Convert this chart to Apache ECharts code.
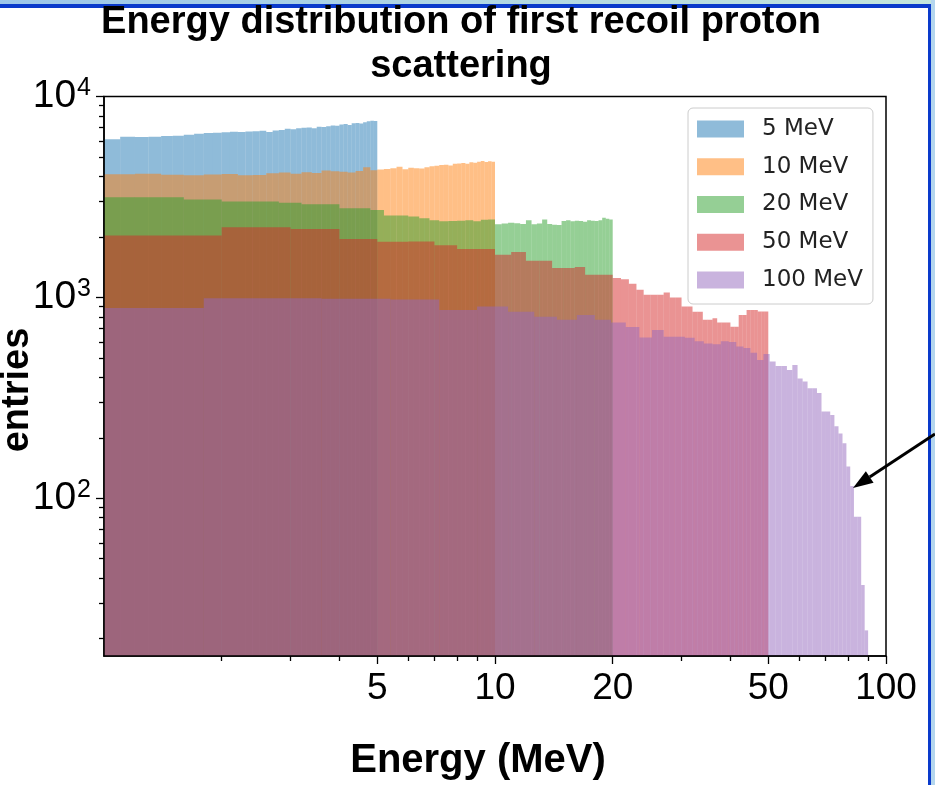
<!DOCTYPE html>
<html>
<head>
<meta charset="utf-8">
<script src="https://cdn.jsdelivr.net/npm/echarts@6/dist/echarts.min.js"></script>
<style>
html,body{margin:0;padding:0;background:#fff;}
#main{width:935px;height:785px;}
</style>
</head>
<body>
<div id="main"></div>
<script>
// 图例名称 / 颜色（matplotlib tab 色, alpha 0.5）
var names = ['5 MeV', '10 MeV', '20 MeV', '50 MeV', '100 MeV'];
var colors = ['rgba(31,119,180,0.5)', 'rgba(255,127,14,0.5)', 'rgba(44,160,44,0.5)', 'rgba(214,39,40,0.5)', 'rgba(148,103,189,0.5)'];
// 每组 50 个 bin，bin 宽度 = 最大能量 / 50，只保留 x>=1 能看到的 bin
var binWidth = [0.1, 0.2, 0.4, 1.0, 1.8];
var firstBin = [10, 5, 2, 1, 0];

var counts5 = [6120, 6300, 6280, 6300, 6350, 6380, 6450, 6520, 6580, 6600,
	6640, 6680, 6650, 6700, 6720, 6760, 6650, 6780, 6820, 6900,
	6870, 6950, 6980, 7000, 6950, 7080, 7050, 7120, 7180, 7150,
	7250, 7300, 7220, 7350, 7380, 7330, 7450, 7520, 7580, 7550];
var counts10 = [4100, 4120, 4080, 4060, 4090, 4110, 4050, 4070, 4150, 4180,
	4120, 4200, 4160, 4280, 4250, 4220, 4190, 4260, 4450, 4300,
	4330, 4360, 4400, 4470, 4340, 4420, 4400, 4380, 4450, 4500,
	4520, 4560, 4580, 4540, 4620, 4640, 4660, 4620, 4700, 4680,
	4740, 4780, 4720, 4760, 4740];
var counts20 = [3150, 3150, 3070, 3000, 3000, 2960, 2910, 2910, 2780, 2780,
	2720, 2560, 2560, 2530, 2480, 2420, 2390, 2400, 2410, 2420,
	2390, 2435, 2440, 2310, 2330, 2350, 2340, 2320, 2420, 2310,
	2330, 2440, 2320, 2300, 2290, 2400, 2420, 2390, 2410, 2400,
	2380, 2420, 2410, 2400, 2420, 2490, 2460, 2440];
var counts50 = [2030, 2235, 2190, 1950, 1890, 1900, 1820, 1740, 1740, 1630,
	1680, 1520, 1520, 1400, 1400, 1415, 1295, 1295, 1295, 1250,
	1230, 1170, 1090, 1030, 1030, 1030, 1058, 1000, 1000, 900,
	900, 848, 848, 774, 774, 788, 750, 750, 750, 714,
	714, 818, 818, 866, 866, 866, 850, 850, 850];
var counts100 = [885, 990, 985, 975, 866, 900, 848, 800, 774, 818,
	774, 750, 712, 632, 688, 636, 636, 630, 605, 590,
	585, 605, 600, 570, 560, 530, 488, 522, 479, 456,
	456, 435, 461, 395, 381, 353, 353, 334, 270, 270,
	260, 228, 210, 188, 144, 115, 81, 81, 37, 22];
var allCounts = [counts5, counts10, counts20, counts50, counts100];

// 刻度
var xMajorTicks = [5, 10, 20, 50, 100];
var xMinorTicks = [2, 3, 4, 6, 7, 8, 9, 30, 40, 60, 70, 80, 90];
var yMajorTicks = [100, 1000, 10000];
var yMinorTicks = [20, 30, 40, 50, 60, 70, 80, 90, 200, 300, 400, 500, 600, 700, 800, 900,
	2000, 3000, 4000, 5000, 6000, 7000, 8000, 9000];

var xMin = 1, xMax = 100, yMin = 16.4, yMax = 10000;

var chart = echarts.init(document.getElementById('main'));

function renderBin(params, api) {
	var p0 = api.coord([api.value(0), api.value(2)]);
	var p1 = api.coord([api.value(1), yMin]);
	return {
		type: 'rect',
		shape: {x: p0[0], y: p0[1], width: p1[0] - p0[0], height: p1[1] - p0[1]},
		style: {fill: api.visual('color')}
	};
}

var series = [];
for (var i = 0; i < names.length; i++) {
	var data = [];
	for (var k = 0; k < allCounts[i].length; k++) {
		var lo = (firstBin[i] + k) * binWidth[i];
		var hi = lo + binWidth[i];
		data.push([Math.max(lo, xMin), hi, allCounts[i][k]]);
	}
	series.push({
		name: names[i],
		type: 'custom',
		xAxisIndex: 0,
		yAxisIndex: 0,
		silent: true,
		itemStyle: {color: colors[i]},
		encode: {x: [0, 1], y: 2},
		renderItem: renderBin,
		data: data
	});
}

var black = '#000';
var tickFont = 'Liberation Sans';

function xTickAxis(vals, len, withLabel) {
	return {
		type: 'log', logBase: 10, min: xMin, max: xMax, position: 'bottom', z: 10,
		axisLine: {show: false, onZero: false},
		axisTick: {show: true, customValues: vals, length: len, lineStyle: {color: black, width: 1.3}},
		axisLabel: withLabel ? {
			show: true, customValues: vals, margin: 14, color: black,
			fontSize: 37, fontFamily: tickFont,
			formatter: function (v) { return String(Math.round(v)); }
		} : {show: false},
		splitLine: {show: false}
	};
}
function yTickAxis(vals, len, withLabel) {
	return {
		type: 'log', logBase: 10, min: yMin, max: yMax, position: 'left', z: 10,
		axisLine: {show: false, onZero: false},
		axisTick: {show: true, customValues: vals, length: len, lineStyle: {color: black, width: 1.3}},
		axisLabel: withLabel ? {
			show: true, customValues: vals, margin: 13, color: black,
			fontSize: 39, fontFamily: tickFont,
			formatter: function (v) { return '10{sup|' + Math.round(Math.log10(v)) + '}'; },
			rich: {sup: {fontSize: 25, fontFamily: tickFont, color: black, verticalAlign: 'bottom', padding: [0, 0, 17, 1]}}
		} : {show: false},
		splitLine: {show: false}
	};
}

// 箭头
var tip = [853, 488], tail = [935, 434];
var dx = tail[0] - tip[0], dy = tail[1] - tip[1], dl = Math.sqrt(dx * dx + dy * dy);
var ux = dx / dl, uy = dy / dl;
var hl = 20, hw = 7;
var bx = tip[0] + ux * hl, by = tip[1] + uy * hl;

var option = {
	animation: false,
	backgroundColor: '#fff',
	grid: {
		left: 104, right: 49, top: 96.5, bottom: 129,
		show: true, borderColor: black, borderWidth: 1.5, backgroundColor: 'transparent',
		outerBoundsMode: 'none'
	},
	legend: {
		orient: 'vertical', left: 688, top: 108,
		padding: [9.5, 10, 12.5, 9],
		itemWidth: 47, itemHeight: 17, itemGap: 14.75,
		icon: 'rect',
		backgroundColor: 'rgba(255,255,255,0.8)',
		borderColor: '#cccccc', borderWidth: 1, borderRadius: 5,
		textStyle: {fontFamily: 'DejaVu Sans', fontSize: 23, lineHeight: 23, color: '#222', padding: [0, 0, 0, 13]},
		data: names
	},
	xAxis: [
		{
			type: 'log', logBase: 10, min: xMin, max: xMax, position: 'bottom', z: 11,
			axisLine: {show: true, onZero: false, lineStyle: {color: black, width: 1.5}},
			axisTick: {show: false}, axisLabel: {show: false}, splitLine: {show: false}
		},
		xTickAxis(xMajorTicks, 8, true),
		xTickAxis(xMinorTicks, 5, false)
	],
	yAxis: [
		{
			type: 'log', logBase: 10, min: yMin, max: yMax, position: 'left', z: 11,
			axisLine: {show: true, onZero: false, lineStyle: {color: black, width: 1.5}},
			axisTick: {show: false}, axisLabel: {show: false}, splitLine: {show: false}
		},
		yTickAxis(yMajorTicks, 8, true),
		yTickAxis(yMinorTicks, 5, false)
	],
	graphic: [
		// 幻灯片边框
		{type: 'rect', shape: {x: 0, y: 0, width: 935, height: 4}, style: {fill: new echarts.graphic.LinearGradient(0, 0, 1, 0, [{offset: 0, color: '#9cc6ea'}, {offset: 1, color: '#c4e6dc'}])}, silent: true},
		{type: 'rect', shape: {x: 0, y: 4, width: 935, height: 4}, style: {fill: '#0a3acb'}, silent: true},
		{type: 'rect', shape: {x: 928, y: 4, width: 3, height: 781}, style: {fill: '#0a3acb'}, silent: true},
		{type: 'rect', shape: {x: 931, y: 0, width: 4, height: 785}, style: {fill: '#b4d6ee'}, silent: true},
		// 标题
		{type: 'text', x: 461, y: 23, silent: true, style: {text: 'Energy distribution of first recoil proton', fontFamily: 'Liberation Sans', fontWeight: 'bold', fontSize: 38, fill: black, align: 'center', verticalAlign: 'middle'}},
		{type: 'text', x: 461, y: 67, silent: true, style: {text: 'scattering', fontFamily: 'Liberation Sans', fontWeight: 'bold', fontSize: 38, fill: black, align: 'center', verticalAlign: 'middle'}},
		{type: 'text', x: 478, y: 761, silent: true, style: {text: 'Energy (MeV)', fontFamily: 'Liberation Sans', fontWeight: 'bold', fontSize: 40, fill: black, align: 'center', verticalAlign: 'middle'}},
		{type: 'text', x: 18, y: 390, rotation: Math.PI / 2, silent: true, style: {text: 'entries', fontFamily: 'Liberation Sans', fontWeight: 'bold', fontSize: 38, fill: black, align: 'center', verticalAlign: 'middle'}},
		// 箭头
		{type: 'line', silent: true, z: 100, shape: {x1: tail[0], y1: tail[1], x2: bx, y2: by}, style: {stroke: black, lineWidth: 3}},
		{type: 'polygon', silent: true, z: 100, shape: {points: [tip, [bx + uy * hw, by - ux * hw], [bx - uy * hw, by + ux * hw]]}, style: {fill: black}}
	],
	series: series
};
chart.setOption(option);
</script>
</body>
</html>
